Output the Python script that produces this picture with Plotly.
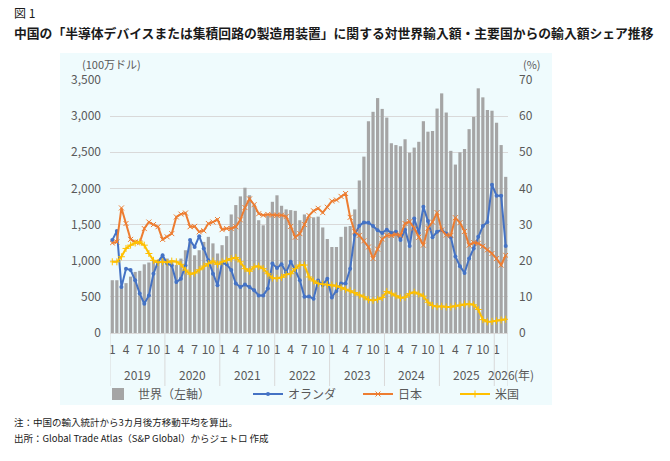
import plotly.graph_objects as go

# 2019-01 .. 2026-03, monthly, 3-month moving average
year_months = [(2019, 12), (2020, 12), (2021, 12), (2022, 12),
               (2023, 12), (2024, 12), (2025, 12), (2026, 3)]

world = [
    730, 730, 650, 690, 780, 845, 860, 950, 975, 1005, 1005, 1050,
    1030, 1005, 940, 1030, 1145, 1260, 1075, 1145, 1260, 1330, 1240, 1100,
    1215, 1340, 1640, 1770, 1890, 2010, 1905, 1780, 1560, 1490, 1620, 1815,
    1905, 1760, 1710, 1700, 1690, 1560, 1640, 1600, 1600, 1610, 1460, 1300,
    1190, 1190, 1330, 1470, 1480, 1710, 2110, 2440, 2930, 3060, 3250, 3100,
    2980, 2625, 2600, 2585, 2680, 2495, 2565, 2645, 2930, 2785, 2795, 3105,
    3315, 3050, 2520, 2330, 2500, 2545, 2820, 2990, 3385, 3260, 3085, 3075,
    2910, 2600, 2160,
]
netherlands = [
    25.7, 28.2, 12.7, 17.8, 17.4, 14.6, 10.9, 8.1, 10.4, 16.4, 19.7, 21.5,
    19.2, 18.7, 14.1, 15.0, 18.7, 25.7, 23.8, 26.8, 23.4, 20.1, 16.4, 13.2,
    19.4, 19.0, 17.4, 13.7, 12.7, 13.4, 12.7, 11.8, 10.4, 10.4, 12.3, 19.2,
    18.0, 19.0, 16.8, 19.7, 17.4, 14.6, 10.0, 10.1, 9.5, 14.5, 13.3, 15.0,
    9.8, 11.6, 13.7, 13.7, 17.8, 27.2, 29.7, 30.6, 30.5, 29.6, 28.4, 27.7,
    28.6, 27.7, 28.0, 25.7, 28.6, 24.1, 31.7, 27.7, 34.9, 31.0, 26.5, 28.0,
    28.5, 27.5, 26.5, 21.2, 18.5, 16.6, 20.6, 23.4, 26.6, 29.6, 30.7, 41.0,
    38.0, 38.0, 24.1,
]
japan = [
    24.9, 25.2, 34.6, 30.3, 25.9, 25.2, 25.0, 28.9, 30.7, 30.0, 29.4, 25.9,
    26.6, 27.5, 32.1, 32.9, 33.2, 29.4, 29.5, 28.0, 28.3, 30.3, 30.7, 31.4,
    28.6, 28.9, 28.9, 29.4, 31.3, 34.7, 37.1, 35.5, 33.0, 32.6, 32.8, 32.6,
    32.6, 32.6, 32.2, 29.5, 26.5, 27.5, 30.0, 32.5, 33.8, 34.5, 33.3, 34.8,
    36.5, 36.8, 37.8, 38.6, 32.0, 28.0, 27.0, 25.5, 23.8, 20.6, 23.2, 26.0,
    27.0, 27.0, 27.3, 27.0, 30.3, 30.8, 29.0, 26.5, 24.3, 29.0, 30.7, 33.3,
    28.5, 27.1, 27.0, 31.9, 30.5, 28.1, 24.3, 25.0, 24.8, 24.0, 23.0, 22.0,
    20.6, 18.8, 21.5,
]
usa = [
    19.7, 19.7, 21.1, 23.4, 24.3, 24.9, 25.2, 24.3, 22.0, 20.1, 19.5, 19.7,
    19.5, 19.9, 19.7, 19.0, 17.4, 16.3, 16.6, 17.5, 18.5, 19.2, 19.9, 19.0,
    19.7, 20.1, 20.6, 20.9, 19.7, 17.8, 17.1, 18.3, 18.5, 17.8, 16.4, 15.2,
    15.1, 15.4, 16.2, 16.4, 17.8, 18.8, 18.8, 15.5, 14.4, 13.7, 13.5, 13.4,
    13.3, 13.0, 12.6, 12.1, 11.7, 11.2, 10.5, 10.0, 9.2, 9.0, 9.3, 9.8,
    11.5, 11.0, 10.3, 9.7, 9.9, 10.9, 11.3, 10.8, 10.2, 8.5, 7.6, 7.3,
    7.4, 7.2, 7.2, 7.5, 7.7, 8.0, 8.0, 7.8, 6.5, 3.7, 3.1, 3.2,
    3.4, 3.6, 3.8,
]
shown_months = [1, 4, 7, 10]

FONT = "Noto Sans CJK JP"
GREY_TXT = "#595959"

W, H = 670, 461
# plot area in page pixels: x 110..508, y 80..333
L, T = 110, 80
R = W - 508
B = H - 333
PW, PH = W - L - R, H - T - B


def px(xp, yp):
    # page pixels -> paper coordinates
    return (xp - L) / PW, (H - B - yp) / PH


# category positions
months = []
for y, n in year_months:
    months += list(range(1, n + 1))
idx = list(range(len(months)))
tickvals = [i for i in idx if months[i] in shown_months]
ticktext = [str(months[i]) for i in tickvals]

fig = go.Figure()
fig.add_trace(go.Bar(
    x=idx, y=world, name="世界（左軸）", legend="legend",
    marker=dict(color="#a5a5a5", line=dict(width=0)),
))
fig.add_trace(go.Scatter(
    x=idx, y=netherlands, name="オランダ", yaxis="y2", mode="lines+markers",
    legend="legend2",
    line=dict(color="#4472c4", width=2),
    marker=dict(symbol="circle", size=4, color="#4472c4"),
))
fig.add_trace(go.Scatter(
    x=idx, y=japan, name="日本", yaxis="y2", mode="lines+markers",
    legend="legend3",
    line=dict(color="#ed7d31", width=2),
    marker=dict(symbol="x-thin", size=5, line=dict(color="#ed7d31", width=1)),
))
fig.add_trace(go.Scatter(
    x=idx, y=usa, name="米国", yaxis="y2", mode="lines+markers",
    legend="legend4",
    line=dict(color="#ffc000", width=2),
    marker=dict(symbol="cross-thin", size=5, line=dict(color="#ffc000", width=1)),
))

# chart area background
bx0, by0 = px(60, 405)
bx1, by1 = px(552, 53)
shapes = [dict(type="rect", xref="paper", yref="paper", x0=bx0, x1=bx1,
               y0=by0, y1=by1, fillcolor="#effbfd", line=dict(width=0),
               layer="below")]

# year labels and dividers under the axis
_, ydiv = px(0, 386)
_, yyear = px(0, 374)
annotations = []
start = 0
for y, n in year_months:
    shapes.append(dict(type="line", xref="x", yref="paper", x0=start - 0.5,
                       x1=start - 0.5, y0=0, y1=ydiv,
                       line=dict(color="#d9d9d9", width=1)))
    annotations.append(dict(x=start + (n - 1) / 2, xref="x", y=yyear, yref="paper",
                            text=str(y), showarrow=False, yanchor="middle",
                            font=dict(size=12, color=GREY_TXT)))
    start += n
shapes.append(dict(type="line", xref="x", yref="paper", x0=start - 0.5,
                   x1=start - 0.5, y0=0, y1=ydiv,
                   line=dict(color="#d9d9d9", width=1)))

ax, ay = px(512, 374)
annotations.append(dict(x=ax, y=ay, xref="paper", yref="paper", text="(年)",
                        showarrow=False, xanchor="left", yanchor="middle",
                        font=dict(size=12, color=GREY_TXT)))
ax, ay = px(80, 64)
annotations.append(dict(x=ax, y=ay, xref="paper", yref="paper", text="(100万ドル)",
                        showarrow=False, xanchor="left", yanchor="middle",
                        font=dict(size=11, color=GREY_TXT)))
ax, ay = px(521, 64)
annotations.append(dict(x=ax, y=ay, xref="paper", yref="paper", text="(%)",
                        showarrow=False, xanchor="left", yanchor="middle",
                        font=dict(size=11, color=GREY_TXT)))


def legend_at(xp):
    lx, ly = px(xp, 394)
    return dict(orientation="h", x=lx, y=ly, yanchor="middle", xanchor="left",
                itemwidth=30, font=dict(size=12, color=GREY_TXT),
                bgcolor="rgba(0,0,0,0)")


fig.update_layout(
    width=W, height=H,
    margin=dict(l=L, r=R, t=T, b=B, autoexpand=False),
    paper_bgcolor="white", plot_bgcolor="rgba(0,0,0,0)",
    font=dict(family=FONT, size=12, color=GREY_TXT),
    bargap=0.3, showlegend=True,
    shapes=shapes, annotations=annotations,
    legend=legend_at(98), legend2=legend_at(248),
    legend3=legend_at(358), legend4=legend_at(455),
    xaxis=dict(range=[-0.5, len(idx) - 0.5], tickmode="array", tickvals=tickvals,
               ticktext=ticktext, tickangle=0, showgrid=False, zeroline=False,
               ticks="", ticklabelstandoff=6, tickfont=dict(size=12, color=GREY_TXT),
               showline=True, linecolor="#d9d9d9"),
    yaxis=dict(range=[0, 3500], dtick=500, tickformat=",", gridcolor="#d9d9d9",
               zeroline=False, ticks="", ticklabelstandoff=8,
               tickfont=dict(size=12, color=GREY_TXT)),
    yaxis2=dict(range=[0, 70], dtick=10, overlaying="y", side="right",
                showgrid=False, zeroline=False, ticks="", ticklabelstandoff=10,
                tickfont=dict(size=12, color=GREY_TXT)),
)

# heading and notes (page pixels)
heads = [
    ("図 1", 12, 12, 12, False),
    ("中国の「半導体デバイスまたは集積回路の製造用装置」に関する対世界輸入額・主要国からの輸入額シェア推移",
     12, 33, 12.8, True),
    ("注：中国の輸入統計から3カ月後方移動平均を算出。", 12, 422, 9.5, False),
    ("出所：Global Trade Atlas（S&P Global）からジェトロ 作成", 12, 438, 9.5, False),
]
for text, xp, yp, size, bold in heads:
    xx, yy = px(xp, yp)
    fig.add_annotation(x=xx, y=yy, xref="paper", yref="paper", xanchor="left",
                       yanchor="middle", showarrow=False,
                       text=f"<b>{text}</b>" if bold else text,
                       font=dict(size=size, color="#1a1a1a", family=FONT))

# drop the browser's default body margin so the figure sits at the page corner
fig.write_html("out.html", config={"displayModeBar": False},
               post_script="document.body.style.margin='0';")
